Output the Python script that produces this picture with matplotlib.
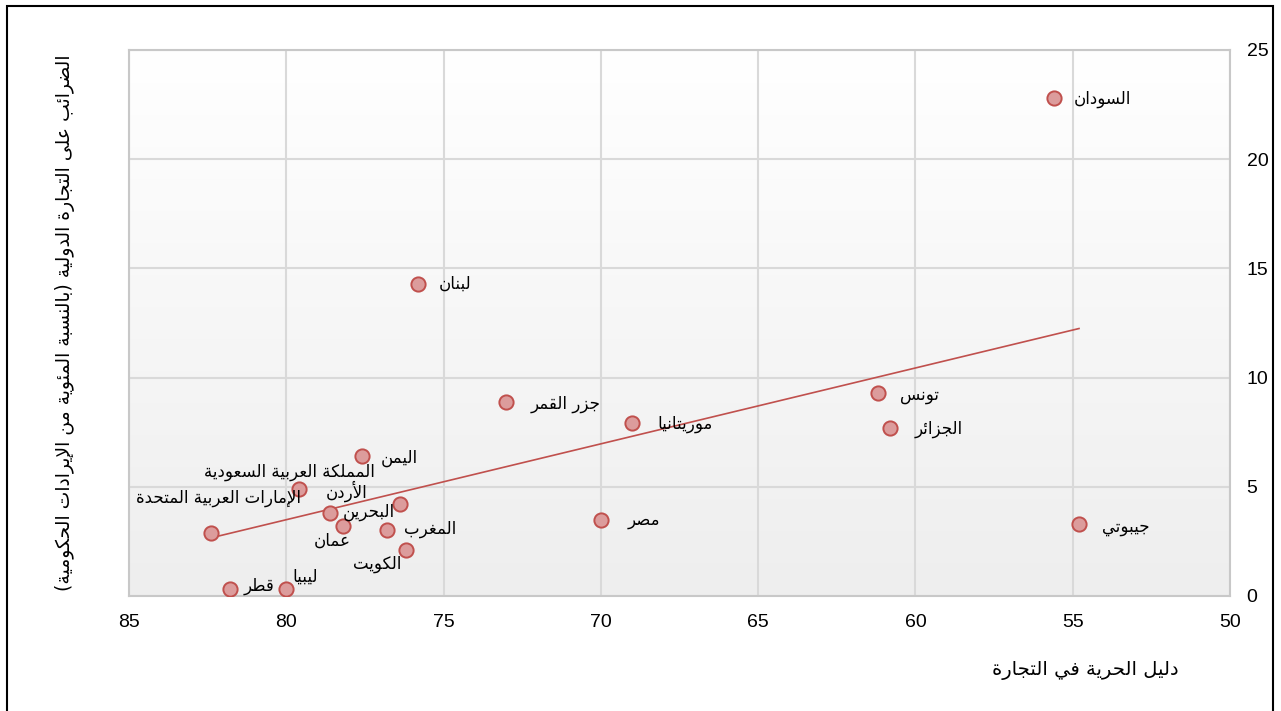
import numpy as np
import matplotlib
matplotlib.use("Agg")
import matplotlib.pyplot as plt
from matplotlib.patches import Rectangle

# data
countries = ["السودان", "لبنان", "جزر القمر", "موريتانيا", "تونس", "الجزائر", "جيبوتي", "مصر",
             "اليمن", "المملكة العربية السعودية", "الإمارات العربية المتحدة", "الأردن", "البحرين",
             "عمان", "المغرب", "الكويت", "قطر", "ليبيا"]
trade_freedom = [55.6, 75.8, 73.0, 69.0, 61.2, 60.8, 54.8, 70.0,
                 77.6, 79.6, 82.4, 78.6, 76.4, 78.2, 76.8, 76.2, 81.8, 80.0]
trade_taxes = [22.8, 14.3, 8.9, 7.9, 9.3, 7.7, 3.3, 3.5,
               6.4, 4.9, 2.9, 3.8, 4.2, 3.2, 3.0, 2.1, 0.3, 0.3]
# label offsets in pixels (label centre relative to point)
label_dx = [49, 37, 59, 53, 42, 48, 47, 43, 38, -9, 8, 16, -31, -11, 43, -29, 29, 19]
label_dy = [-1, 0, -2, -1, -2, -1, -3, 0, -2, 17, 35, 22, -8, -15, 1, -14, 3, 13]

x_label = "دليل الحرية في التجارة"
y_label = "الضرائب على التجارة الدولية (بالنسبة المئوية من الإيرادات الحكومية)"
x_ticks = [85, 80, 75, 70, 65, 60, 55, 50]
y_ticks = [0, 5, 10, 15, 20, 25]

# --- minimal Arabic shaping: presentation forms + right-to-left order ---
FORMS = {
    'ء': (0xFE80, 1), 'آ': (0xFE81, 2), 'أ': (0xFE83, 2), 'ؤ': (0xFE85, 2), 'إ': (0xFE87, 2),
    'ئ': (0xFE89, 4), 'ا': (0xFE8D, 2), 'ب': (0xFE8F, 4), 'ة': (0xFE93, 2), 'ت': (0xFE95, 4),
    'ث': (0xFE99, 4), 'ج': (0xFE9D, 4), 'ح': (0xFEA1, 4), 'خ': (0xFEA5, 4), 'د': (0xFEA9, 2),
    'ذ': (0xFEAB, 2), 'ر': (0xFEAD, 2), 'ز': (0xFEAF, 2), 'س': (0xFEB1, 4), 'ش': (0xFEB5, 4),
    'ص': (0xFEB9, 4), 'ض': (0xFEBD, 4), 'ط': (0xFEC1, 4), 'ظ': (0xFEC5, 4), 'ع': (0xFEC9, 4),
    'غ': (0xFECD, 4), 'ف': (0xFED1, 4), 'ق': (0xFED5, 4), 'ك': (0xFED9, 4), 'ل': (0xFEDD, 4),
    'م': (0xFEE1, 4), 'ن': (0xFEE5, 4), 'ه': (0xFEE9, 4), 'و': (0xFEED, 2), 'ى': (0xFEEF, 2),
    'ي': (0xFEF1, 4),
}
LAM_ALEF = {'ا': 0xFEFB, 'أ': 0xFEF7, 'إ': 0xFEF9, 'آ': 0xFEF5}


def shape(text):
    # tokens: (base code, number of forms) or plain char
    tokens = []
    i = 0
    while i < len(text):
        c = text[i]
        if c == 'ل' and i + 1 < len(text) and text[i + 1] in LAM_ALEF:
            tokens.append((LAM_ALEF[text[i + 1]], 2))
            i += 2
        elif c in FORMS:
            tokens.append(FORMS[c])
            i += 1
        else:
            tokens.append(c)
            i += 1
    out = []
    for k, tok in enumerate(tokens):
        if isinstance(tok, str):
            out.append({'(': ')', ')': '('}.get(tok, tok))
            continue
        base, n = tok
        prev = tokens[k - 1] if k > 0 else None
        nxt = tokens[k + 1] if k + 1 < len(tokens) else None
        c_prev = n > 1 and isinstance(prev, tuple) and prev[1] == 4
        c_next = n == 4 and isinstance(nxt, tuple) and nxt[1] > 1
        if n == 4:
            off = {(False, False): 0, (True, False): 1, (False, True): 2, (True, True): 3}[(c_prev, c_next)]
        elif n == 2:
            off = 1 if c_prev else 0
        else:
            off = 0
        out.append(chr(base + off))
    return "".join(reversed(out))


AR = "DejaVu Sans"
NUM = "Liberation Sans"

fig = plt.figure(figsize=(12.81, 7.11), dpi=100)
ax = fig.add_axes([129 / 1281, 1 - 596 / 711, 1101 / 1281, 546 / 711])

# soft vertical gradient in the plot area
grad = np.linspace(0, 1, 256).reshape(-1, 1)
ax.imshow(grad, extent=[85, 50, 0, 25], aspect="auto", origin="upper",
          cmap=matplotlib.colors.LinearSegmentedColormap.from_list("g", ["#ffffff", "#eeeeee"]),
          zorder=0)

ax.set_xlim(85, 50)
ax.set_ylim(0, 25)
ax.set_xticks(x_ticks)
ax.set_yticks(y_ticks)
ax.yaxis.tick_right()
ax.tick_params(length=0, labelsize=14)
ax.tick_params(axis="x", pad=13)
ax.tick_params(axis="y", pad=12)
for lab in ax.get_xticklabels() + ax.get_yticklabels():
    lab.set_fontfamily(NUM)
ax.grid(True, color="#d9d9d9", linewidth=1.5, zorder=1)
ax.set_axisbelow(True)
for sp in ax.spines.values():
    sp.set_color("#c8c8c8")
    sp.set_linewidth(1.5)

# linear trend line
x = np.array(trade_freedom)
y = np.array(trade_taxes)
k, b = np.polyfit(x, y, 1)
xs = np.array([x.min(), x.max()])
ax.plot(xs, k * xs + b, color="#c0504d", linewidth=1.2, zorder=3)

ax.scatter(x, y, s=105, facecolor="#dc9c9c", edgecolor="#c0504d", linewidths=1.4, zorder=4)

for name, xi, yi, dx, dy in zip(countries, trade_freedom, trade_taxes, label_dx, label_dy):
    ax.annotate(shape(name), (xi, yi), xytext=(dx, dy), textcoords="offset pixels",
                ha="center", va="center", fontsize=12, family=AR, zorder=5)

fig.text(65 / 1281, 1 - 323 / 711, shape(y_label), rotation=90, ha="center", va="center",
         fontsize=13.5, family=AR)
fig.text(1085 / 1281, 1 - 670 / 711, shape(x_label), ha="center", va="center",
         fontsize=14, family=AR)

# outer frame
fig.patches.append(Rectangle((7 / 1281, -0.02), 1266 / 1281, 1.02 - 6 / 711,
                             transform=fig.transFigure, fill=False, edgecolor="black",
                             linewidth=1.5))

fig.savefig("out.png", dpi=100)
